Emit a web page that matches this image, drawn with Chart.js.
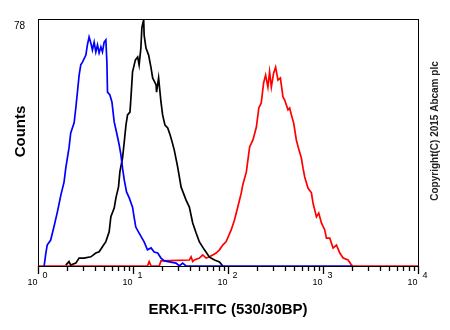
<!DOCTYPE html>
<html>
<head>
<meta charset="utf-8">
<script src="https://cdn.jsdelivr.net/npm/chart.js@4.4.1/dist/chart.umd.min.js"></script>
<style>
html,body{margin:0;padding:0;background:#fff;}
</style>
</head>
<body>
<canvas id="histograma" width="450" height="330"></canvas>
<script>
// unstained cells (blue)
const unstainedX = [1.16,1.21,1.25,1.36,1.47,1.60,1.74,1.88,1.96,2.12,2.21,2.40,2.50,2.60,2.71,2.82,2.94,3.19,3.31,3.45,3.60,3.74,3.90,4.06,4.23,4.40,4.59,4.77,4.97,5.18,5.31,5.39,5.71,6.00,6.34,6.70,7.16,7.46,7.76,8.09,8.55,9.13,9.89,10.3,10.7,11.6,13.1,14.2,15.5,16.7,18.2,19.7,21.4,28.4,30.8,33.3,36.2,2012];
const unstainedY = [0,4.1,6.6,8.2,12.3,17.1,22.4,26.5,30.9,37.3,42.0,45.2,49.9,54.9,60.3,63.5,64.4,66.6,69.8,72.3,70.4,68.2,70.7,67.6,69.8,67.3,69.2,67.6,70.7,71.4,64.4,54.9,54.0,51.8,45.5,42.3,38.2,35.1,30.9,27.2,23.4,21.5,18.6,15.2,12.3,10.4,7.6,5.1,5.7,4.4,4.1,2.5,1.6,0.9,0,0.9,0,0];

// isotype control (black)
const isotypeX = [1.96,2.12,2.21,2.50,2.71,3.05,3.60,4.06,4.40,4.77,5.18,5.61,5.85,6.34,6.61,7.04,7.28,7.76,8.09,8.43,8.76,9.29,9.51,9.89,10.6,11.2,11.6,12.1,12.4,12.8,12.95,13.1,13.7,14.6,15.5,16.1,17.5,17.7,18.6,19.7,20.5,21.7,23.2,24.6,25.8,27.2,29.5,32.1,36.2,39.2,42.5,46.2,50.0,56.5,63.8,72.1,81.3,88.1];
const isotypeY = [0.3,1.4,0.3,0.9,2.5,2.5,2.9,4.1,4.5,6.1,7.7,10.8,15.6,18.3,21.5,25.0,29.8,34.1,39.2,44.5,47.7,48.6,53.1,61.3,65.1,66.0,63.5,68.8,75.2,77.2,78,72.9,68.8,66.6,62.5,59.4,57.2,54.9,59.4,51.8,47.7,44.5,43.6,41.4,39.2,36.6,31.3,24.9,20.8,18.6,13.6,10.4,7.6,5.1,2.8,1.9,1.3,0];

// ERK1 stained (red)
const erk1X = [1,14.2,14.8,15.5,18.9,19.7,39.2,40.9,42.5,44.3,50.0,54.2,58.9,63.8,69.1,75.0,81.3,88.1,95.7,108,117,127,138,143,156,169,183,199,211,224,237,249,263,274,286,302,317,336,356,379,395,428,446,465,491,524,559,592,616,642,695,755,785,853,902,963,1043,1087,1178,1277,1387,1503,1629,1837,1995,2062,10000];
const erk1Y = [0,0,1.4,0,0,1.6,1.9,2.9,1.4,1.9,2.5,3.5,2.5,2.9,3.5,4.1,5.1,6.6,7.7,11.4,14.5,18.7,23.1,25.6,29.7,37.6,39.8,43.9,49.9,51.5,57.8,60.3,56.5,61.3,56.5,60.9,62.8,58.7,59.4,53.4,52.4,49.3,49.9,47.7,45.2,39.8,36.6,34.1,30.9,28.1,24.6,23.1,19.9,15.5,16.7,13.6,11.4,8.8,8.8,5.7,6.6,4.1,2.5,1.9,0.3,0,0];

const decadeTicks = [1,10,100,1000,10000];
const decadeExp = ['0','1','2','3','4'];
const minorSteps = [2,3,4,5,6,7,8,9];
const yMax = 78;

const xTitle = 'ERK1-FITC (530/30BP)';
const yTitle = 'Counts';
const copyright = 'Copyright(C) 2015 Abcam plc';

const FONT = '"Liberation Sans", Arial, sans-serif';

function puntos(xs, ys){
    return xs.map((x, i) => ({x: x, y: ys[i]}));
}

function marca(ctx, px, y0, len){
    ctx.beginPath();
    ctx.moveTo(px, y0);
    ctx.lineTo(px, y0 + len);
    ctx.stroke();
}

// box round the plot, log ticks and decade labels, titles
const marco = {
    id: 'marco',
    afterDraw(chart){
        const {ctx, chartArea: a} = chart;
        const x = chart.scales.x;
        ctx.save();
        ctx.strokeStyle = '#000';
        ctx.lineWidth = 1;
        ctx.strokeRect(a.left + 0.5, a.top + 0.5, a.right - a.left, a.bottom - a.top);

        // 2..9 inside each decade
        ctx.lineWidth = 1.3;
        decadeTicks.slice(0, -1).forEach(d => {
            minorSteps.forEach(m => {
                marca(ctx, Math.round(x.getPixelForValue(d * m)) + 0.5, a.bottom, 5);
            });
        });

        ctx.fillStyle = '#000';
        ctx.font = '9px ' + FONT;
        ctx.textBaseline = 'alphabetic';
        decadeTicks.forEach((v, i) => {
            const px = Math.round(x.getPixelForValue(v)) + 0.5;
            marca(ctx, px, a.bottom, 8);
            ctx.textAlign = 'right';
            ctx.fillText('10', px - 1, a.bottom + 19);
            ctx.textAlign = 'left';
            ctx.fillText(decadeExp[i], px + 4, a.bottom + 12);
        });

        ctx.font = 'bold 15px ' + FONT;
        ctx.textAlign = 'center';
        ctx.fillText(xTitle, (a.left + a.right) / 2, 314);

        ctx.textBaseline = 'middle';
        ctx.save();
        ctx.translate(21, 131.5);
        ctx.rotate(-Math.PI / 2);
        ctx.fillText(yTitle, 0, 0);
        ctx.restore();

        ctx.font = 'bold 10px ' + FONT;
        ctx.fillStyle = '#222';
        ctx.save();
        ctx.translate(435, 131);
        ctx.rotate(-Math.PI / 2);
        ctx.fillText(copyright, 0, 0);
        ctx.restore();

        ctx.restore();
    }
};

new Chart(document.getElementById('histograma'), {
    type: 'line',
    data: {
        datasets: [
            { data: puntos(unstainedX, unstainedY), borderColor: '#0000ff' },
            { data: puntos(isotypeX, isotypeY), borderColor: '#000000' },
            { data: puntos(erk1X, erk1Y), borderColor: '#ff0000' }
        ]
    },
    options: {
        responsive: false,
        animation: false,
        layout: { padding: { top: 19, right: 32, left: 0, bottom: 0 } },
        plugins: { legend: { display: false }, tooltip: { enabled: false } },
        elements: {
            point: { radius: 0 },
            line: { borderWidth: 1.7, tension: 0, fill: false }
        },
        scales: {
            x: {
                type: 'logarithmic',
                min: 1,
                max: 10000,
                border: { display: true, color: '#000', width: 1 },
                grid: { display: false },
                ticks: { display: false },
                afterFit: s => { s.height = 64; }
            },
            y: {
                min: 0,
                max: yMax,
                border: { display: true, color: '#000', width: 1 },
                grid: { display: false },
                ticks: {
                    stepSize: yMax,
                    padding: 5,
                    labelOffset: 7,
                    color: '#000',
                    font: { family: FONT, size: 10 },
                    callback: v => v === yMax ? String(yMax) : ''
                },
                afterFit: s => { s.width = 38; }
            }
        }
    },
    plugins: [marco]
});
</script>
</body>
</html>
